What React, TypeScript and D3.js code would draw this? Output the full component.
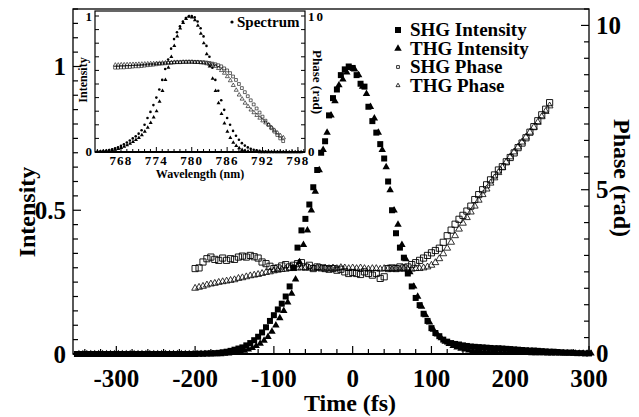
import React from 'react';
import * as d3 from 'd3';

// ---- main plot: intensity vs delay (fs) ----
const timeFs = [
  -350, -345, -340, -335, -330, -325, -320, -315, -310, -305,
  -300, -295, -290, -285, -280, -275, -270, -265, -260, -255,
  -250, -245, -240, -235, -230, -225, -220, -215, -210, -205,
  -200, -195, -190, -185, -180, -175, -170, -165, -160, -155,
  -150, -145, -140, -135, -130, -125, -120, -115, -110, -105,
  -100, -95, -90, -85, -80, -75, -70, -65, -60, -55,
  -50, -45, -40, -35, -30, -25, -20, -15, -10, -5,
  0, 5, 10, 15, 20, 25, 30, 35, 40, 45,
  50, 55, 60, 65, 70, 75, 80, 85, 90, 95,
  100, 105, 110, 115, 120, 125, 130, 135, 140, 145,
  150, 155, 160, 165, 170, 175, 180, 185, 190, 195,
  200, 205, 210, 215, 220, 225, 230, 235, 240, 245,
  250, 255, 260, 265, 270, 275, 280, 285, 290, 295,
  300,
];

const shgIntensity = [
  0, 0, 0, 0, 0, 0, 0, 0, 0, 0,
  0, 0, 0, 0, 0, 0, 0, 0, 0, 0,
  0, 0, 0, 0, 0, 0, 0, 0, 0, 0,
  0, 0.001, 0.001, 0.002, 0.002, 0.003, 0.004, 0.006, 0.008, 0.011,
  0.015, 0.019, 0.023, 0.03, 0.038, 0.048, 0.06, 0.075, 0.093, 0.115,
  0.135, 0.155, 0.175, 0.2, 0.235, 0.3, 0.37, 0.43, 0.47, 0.52,
  0.58, 0.64, 0.7, 0.74, 0.83, 0.89, 0.92, 0.97, 0.99, 1.0,
  0.995, 0.97, 0.94, 0.93, 0.86, 0.81, 0.77, 0.73, 0.68, 0.6,
  0.5, 0.42, 0.37, 0.335, 0.28, 0.235, 0.195, 0.17, 0.14, 0.115,
  0.09, 0.073, 0.062, 0.05, 0.043, 0.038, 0.035, 0.033, 0.03, 0.028,
  0.026, 0.025, 0.024, 0.023, 0.022, 0.021, 0.02, 0.02, 0.019, 0.018,
  0.017, 0.016, 0.015, 0.014, 0.013, 0.012, 0.012, 0.011, 0.01, 0.009,
  0.008, 0.008, 0.007, 0.006, 0.005, 0.005, 0.004, 0.003, 0.003, 0.002,
  0.002,
];

const thgIntensity = [
  0, 0, 0, 0, 0, 0, 0, 0, 0, 0,
  0, 0, 0, 0, 0, 0, 0, 0, 0, 0,
  0, 0, 0, 0, 0, 0, 0, 0, 0, 0,
  0, 0, 0, 0, 0, 0, 0, 0.001, 0.002, 0.004,
  0.006, 0.009, 0.012, 0.016, 0.021, 0.028, 0.036, 0.047, 0.06, 0.078,
  0.1, 0.125, 0.15, 0.18, 0.21, 0.26, 0.32, 0.38, 0.43, 0.5,
  0.565, 0.64, 0.71, 0.77, 0.83, 0.88, 0.935, 0.955, 0.98, 0.995,
  0.99, 0.97, 0.93, 0.905, 0.86, 0.82, 0.77, 0.71, 0.65, 0.57,
  0.5, 0.45, 0.38, 0.33, 0.285, 0.235, 0.2, 0.165, 0.135, 0.11,
  0.085, 0.068, 0.055, 0.043, 0.035, 0.028, 0.023, 0.019, 0.016, 0.013,
  0.011, 0.01, 0.009, 0.008, 0.008, 0.007, 0.007, 0.006, 0.006, 0.005,
  0.005, 0.005, 0.004, 0.004, 0.004, 0.003, 0.003, 0.003, 0.003, 0.002,
  0.002, 0.002, 0.002, 0.002, 0.002, 0.002, 0.002, 0.002, 0.002, 0.002,
  0.002,
];

// ---- main plot: phase (rad) ----
const phaseTimeFs = [
  -200, -195, -190, -185, -180, -175, -170, -165, -160, -155,
  -150, -145, -140, -135, -130, -125, -120, -115, -110, -105,
  -100, -95, -90, -85, -80, -75, -70, -65, -60, -55,
  -50, -45, -40, -35, -30, -25, -20, -15, -10, -5,
  0, 5, 10, 15, 20, 25, 30, 35, 40, 45,
  50, 55, 60, 65, 70, 75, 80, 85, 90, 95,
  100, 105, 110, 115, 120, 125, 130, 135, 140, 145,
  150, 155, 160, 165, 170, 175, 180, 185, 190, 195,
  200, 205, 210, 215, 220, 225, 230, 235, 240, 245,
  250,
];

const shgPhase = [
  2.6, 2.62, 2.8, 2.9, 2.95, 2.88, 2.85, 2.92, 2.85, 2.9,
  2.88, 2.95, 2.98, 2.95, 3.0, 2.96, 2.92, 2.8, 2.75, 2.67,
  2.6, 2.62, 2.68, 2.72, 2.65, 2.7, 2.75, 2.78, 2.65, 2.7,
  2.6, 2.65, 2.62, 2.6, 2.58, 2.6, 2.55, 2.58, 2.5, 2.45,
  2.48, 2.45, 2.42, 2.5, 2.45, 2.4, 2.45, 2.3, 2.35, 2.6,
  2.62, 2.6, 2.65, 2.62, 2.65, 2.72, 2.78, 2.85, 2.92, 3.0,
  3.08, 3.15, 3.22, 3.4, 3.6, 3.77, 3.95, 4.1, 4.22, 4.35,
  4.5, 4.7, 4.85, 5.0, 5.15, 5.3, 5.45, 5.6, 5.7, 5.85,
  5.98, 6.12, 6.28, 6.42, 6.58, 6.75, 6.92, 7.1, 7.28, 7.45,
  7.65,
];

const thgPhase = [
  2.0, 2.03, 2.06, 2.1, 2.13, 2.15, 2.18, 2.2, 2.22, 2.24,
  2.26, 2.3, 2.32, 2.35, 2.38, 2.4, 2.42, 2.45, 2.48, 2.5,
  2.53, 2.55, 2.57, 2.58, 2.6, 2.6, 2.62, 2.62, 2.62, 2.62,
  2.6, 2.63, 2.61, 2.62, 2.6, 2.62, 2.6, 2.63, 2.62, 2.6,
  2.62, 2.6, 2.62, 2.6, 2.58, 2.6, 2.6, 2.58, 2.6, 2.6,
  2.58, 2.6, 2.58, 2.6, 2.58, 2.58, 2.6, 2.6, 2.62, 2.65,
  2.7, 2.78, 2.9, 3.05, 3.22, 3.4, 3.6, 3.8, 3.98, 4.15,
  4.32, 4.5, 4.68, 4.85, 5.02, 5.2, 5.36, 5.52, 5.68, 5.84,
  6.0, 6.15, 6.3, 6.45, 6.6, 6.75, 6.9, 7.05, 7.22, 7.38,
  7.55,
];

// ---- inset: spectrum vs wavelength (nm) ----
const wavelengthNm = [
  764, 764.5, 765, 765.5, 766, 766.5, 767, 767.5, 768, 768.5,
  769, 769.5, 770, 770.5, 771, 771.5, 772, 772.5, 773, 773.5,
  774, 774.5, 775, 775.5, 776, 776.5, 777, 777.5, 778, 778.5,
  779, 779.5, 780, 780.5, 781, 781.5, 782, 782.5, 783, 783.5,
  784, 784.5, 785, 785.5, 786, 786.5, 787, 787.5, 788, 788.5,
  789, 789.5, 790, 790.5, 791, 791.5, 792, 792.5, 793, 793.5,
  794, 794.5, 795, 795.5, 796, 796.5, 797, 797.5, 798, 798.5,
];

const spectrumA = [
  0.003, 0.005, 0.007, 0.01, 0.014, 0.02, 0.027, 0.035, 0.045, 0.057,
  0.07, 0.085, 0.1, 0.115, 0.135, 0.16, 0.2, 0.25, 0.295, 0.345,
  0.4, 0.46, 0.53, 0.61, 0.68, 0.76, 0.83, 0.88, 0.925, 0.96,
  0.985, 0.998, 1.0, 0.99, 0.96, 0.91, 0.85, 0.78, 0.7, 0.62,
  0.53, 0.45, 0.38, 0.31, 0.25, 0.2, 0.155, 0.12, 0.09, 0.065,
  0.047, 0.034, 0.024, 0.017, 0.012, 0.008, 0.006, 0.004, 0.003, 0.002,
  0.002, 0.001, 0.001, 0.001, 0, 0, 0, 0, 0, 0,
];

const spectrumB = [
  0.002, 0.003, 0.004, 0.006, 0.009, 0.013, 0.018, 0.024, 0.031, 0.04,
  0.05, 0.062, 0.075, 0.09, 0.105, 0.125, 0.15, 0.18, 0.215, 0.255,
  0.3, 0.37, 0.45, 0.53, 0.62, 0.7, 0.78, 0.85, 0.91, 0.95,
  0.98, 0.995, 0.99, 0.97, 0.93, 0.87, 0.8, 0.72, 0.63, 0.54,
  0.45, 0.36, 0.28, 0.21, 0.15, 0.105, 0.07, 0.045, 0.028, 0.016,
  0.009, 0.005, 0.003, 0.002, 0.001, 0, 0, 0, 0, 0,
  0, 0, 0, 0, 0, 0, 0, 0, 0, 0,
];

// ---- inset: spectral phase (rad) ----
const phaseWavelengthNm = [
  767, 767.5, 768, 768.5, 769, 769.5, 770, 770.5, 771, 771.5,
  772, 772.5, 773, 773.5, 774, 774.5, 775, 775.5, 776, 776.5,
  777, 777.5, 778, 778.5, 779, 779.5, 780, 780.5, 781, 781.5,
  782, 782.5, 783, 783.5, 784, 784.5, 785, 785.5, 786, 786.5,
  787, 787.5, 788, 788.5, 789, 789.5, 790, 790.5, 791, 791.5,
  792, 792.5, 793, 793.5, 794, 794.5, 795, 795.5,
];

const shgSpectralPhase = [
  6.2, 6.2, 6.22, 6.22, 6.25, 6.25, 6.28, 6.3, 6.3, 6.32,
  6.35, 6.38, 6.4, 6.42, 6.45, 6.48, 6.5, 6.52, 6.55, 6.55,
  6.58, 6.6, 6.6, 6.62, 6.62, 6.63, 6.63, 6.62, 6.62, 6.6,
  6.6, 6.58, 6.55, 6.5, 6.45, 6.38, 6.3, 6.15, 6.0, 5.8,
  5.55, 5.3, 5.0, 4.7, 4.4, 4.1, 3.8, 3.5, 3.2, 2.9,
  2.6, 2.3, 2.0, 1.75, 1.5, 1.25, 1.0, 0.8,
];

const thgSpectralPhase = [
  6.4, 6.4, 6.42, 6.42, 6.43, 6.44, 6.45, 6.45, 6.46, 6.47,
  6.48, 6.49, 6.5, 6.5, 6.52, 6.53, 6.55, 6.56, 6.57, 6.58,
  6.6, 6.6, 6.6, 6.62, 6.62, 6.62, 6.62, 6.6, 6.6, 6.58,
  6.55, 6.5, 6.45, 6.4, 6.3, 6.15, 6.0, 5.8, 5.55, 5.25,
  4.9, 4.55, 4.2, 3.9, 3.6, 3.35, 3.1, 2.9, 2.7, 2.5,
  2.3, 2.15, 2.0, 1.8, 1.6, 1.4, 1.2, 1.05,
];

const legendLabels = ['SHG Intensity', 'THG Intensity', 'SHG Phase', 'THG Phase'];
const xTickLabels = [-300, -200, -100, 0, 100, 200, 300];
const intensityTickLabels = [0, 0.5, 1];
const phaseTickLabels = [0, 5, 10];
const insetXTickLabels = [768, 774, 780, 786, 792, 798];

const FONT = "'Liberation Serif', 'Times New Roman', serif";

const sym = (type: d3.SymbolType, size: number) => d3.symbol().type(type).size(size)() as string;

export default function App() {
  const W = 639;
  const H = 417;
  const left = 73, right = 589, top = 9, bottom = 354;

  const x = d3.scaleLinear().domain([-355, 300]).range([left, right]);
  const yI = d3.scaleLinear().domain([0, 1.2]).range([bottom, top]);
  const yP = d3.scaleLinear().domain([0, 10.5]).range([bottom, top]);

  // inset
  const iL = 95, iR = 305, iT = 11, iB = 152;
  const ix = d3.scaleLinear().domain([763.6, 799.2]).range([iL, iR]);
  const iy = d3.scaleLinear().domain([0, 1]).range([iB, 16]);
  const iyP = d3.scaleLinear().domain([0, 10]).range([iB, 16]);

  const filledSq = sym(d3.symbolSquare, 36);
  const filledTri = sym(d3.symbolTriangle, 24);
  const openSq = sym(d3.symbolSquare, 38);
  const openTri = sym(d3.symbolTriangle, 20);
  const smallSq = sym(d3.symbolSquare, 8);
  const smallTri = sym(d3.symbolTriangle, 7);

  const xTicks = d3.range(-340, 301, 20);
  const yITicks = d3.range(0, 1.201, 0.05);
  const yPTicks = d3.range(0, 10.51, 0.5);
  const ixTicks = d3.range(764, 800, 1);
  const iyTicks = d3.range(0, 1.001, 0.1);
  const iyPTicks = d3.range(0, 10.01, 1);

  const legendY = [30, 48.5, 67, 85.5];
  const legendMarks = [filledSq, filledTri, smallSq, smallTri];

  return (
    <svg width={W} height={H} style={{ position: 'absolute', left: 0, top: 0, background: '#fff' }}>
      <rect width={W} height={H} fill="#fff" />
      {/* main frame */}
      <rect x={left} y={top} width={right - left} height={bottom - top} fill="none" stroke="#000" strokeWidth={1.3} />
      <line x1={left} x2={right} y1={bottom} y2={bottom} stroke="#000" strokeWidth={2} />

      {/* ticks */}
      {xTicks.map((t) => {
        const major = Math.abs(t % 100) < 1e-6;
        return <line key={'xt' + t} x1={x(t)} x2={x(t)} y1={bottom} y2={bottom - (major ? 8 : 5)} stroke="#000" strokeWidth={1.2} />;
      })}
      {yITicks.map((v, i) => {
        const major = i % 10 === 0;
        return <line key={'yl' + i} x1={left} x2={left + (major ? 8 : 5)} y1={yI(v)} y2={yI(v)} stroke="#000" strokeWidth={1.2} />;
      })}
      {yPTicks.map((v, i) => {
        const major = i % 10 === 0;
        return <line key={'yr' + i} x1={right} x2={right - (major ? 8 : 5)} y1={yP(v)} y2={yP(v)} stroke="#000" strokeWidth={1.2} />;
      })}

      {/* tick labels */}
      <g fontFamily={FONT} fontWeight="bold" fontSize={25} fill="#000">
        {xTickLabels.map((t) => (
          <text key={'xl' + t} x={x(t)} y={387} textAnchor="middle">{t}</text>
        ))}
        {intensityTickLabels.map((v) => (
          <text key={'il' + v} x={66} y={yI(v)} dy="0.35em" textAnchor="end">{v}</text>
        ))}
        {phaseTickLabels.map((v) => (
          <text key={'pl' + v} x={596} y={yP(v)} dy="0.33em" textAnchor="start">{v}</text>
        ))}
      </g>
      <g fontFamily={FONT} fontWeight="bold" fontSize={24} fill="#000">
        <text x={350} y={411} textAnchor="middle">Time (fs)</text>
        <text transform="translate(35,212) rotate(-90)" textAnchor="middle">Intensity</text>
        <text transform="translate(614,178) rotate(90)" textAnchor="middle">Phase (rad)</text>
      </g>

      {/* phase data */}
      {phaseTimeFs.map((t, i) => (
        <path key={'sp' + i} d={openSq} transform={`translate(${x(t)},${yP(shgPhase[i])})`} fill="none" stroke="#000" strokeWidth={0.9} />
      ))}
      {phaseTimeFs.map((t, i) => (
        <path key={'tp' + i} d={openTri} transform={`translate(${x(t)},${yP(thgPhase[i])})`} fill="none" stroke="#000" strokeWidth={0.8} />
      ))}

      {/* intensity data */}
      {timeFs.map((t, i) => (
        <path key={'si' + i} d={filledSq} transform={`translate(${x(t)},${yI(shgIntensity[i])})`} fill="#000" />
      ))}
      {timeFs.map((t, i) => (
        <path key={'ti' + i} d={filledTri} transform={`translate(${x(t) + 2},${yI(thgIntensity[i])})`} fill="#000" />
      ))}

      {/* legend */}
      <g fontFamily={FONT} fontWeight="bold" fontSize={19} fill="#000">
        {legendLabels.map((lab, i) => (
          <g key={lab}>
            <path d={legendMarks[i]} transform={`translate(398,${legendY[i]})`} fill={i < 2 ? '#000' : 'none'} stroke="#000" strokeWidth={i < 2 ? 0 : 0.8} />
            <text x={410} y={legendY[i]} dy="0.33em">{lab}</text>
          </g>
        ))}
      </g>

      {/* inset */}
      <rect x={iL} y={iT} width={iR - iL} height={iB - iT} fill="#fff" stroke="#000" strokeWidth={1.2} />
      <line x1={iL} x2={iR} y1={iB} y2={iB} stroke="#000" strokeWidth={1.8} />
      {ixTicks.map((w) => {
        const major = (w - 768) % 6 === 0;
        return <line key={'ixt' + w} x1={ix(w)} x2={ix(w)} y1={iB} y2={iB - (major ? 5 : 3)} stroke="#000" strokeWidth={1} />;
      })}
      {iyTicks.map((v, i) => (
        <line key={'iyl' + i} x1={iL} x2={iL + 4} y1={iy(v)} y2={iy(v)} stroke="#000" strokeWidth={1} />
      ))}
      {iyPTicks.map((v, i) => (
        <line key={'iyr' + i} x1={iR} x2={iR - 4} y1={iyP(v)} y2={iyP(v)} stroke="#000" strokeWidth={1} />
      ))}
      <g fontFamily={FONT} fontWeight="bold" fontSize={13} fill="#000">
        {insetXTickLabels.map((w) => (
          <text key={'ixl' + w} x={ix(w)} y={165} textAnchor="middle" letterSpacing={1.2}>{w}</text>
        ))}
        <text x={92} y={iy(1)} dy="0.35em" textAnchor="end">1</text>
        <text x={92} y={iy(0)} dy="0.3em" textAnchor="end">0</text>
        <text x={308} y={iyP(10)} dy="0.35em" letterSpacing={2}>10</text>
        <text x={308} y={iyP(0)} dy="0.3em">0</text>
        <text x={200} y={178} textAnchor="middle" fontSize={12}>Wavelength (nm)</text>
        <text transform="translate(87,80) rotate(-90)" textAnchor="middle" fontSize={12}>Intensity</text>
        <text transform="translate(313,82) rotate(90)" textAnchor="middle">Phase (rad)</text>
        <circle cx={232} cy={22} r={1.6} fill="#000" />
        <text x={237} y={22} dy="0.35em" fontSize={15}>Spectrum</text>
      </g>

      {phaseWavelengthNm.map((w, i) => (
        <path key={'isp' + i} d={smallSq} transform={`translate(${ix(w)},${iyP(shgSpectralPhase[i])})`} fill="none" stroke="#000" strokeWidth={0.6} />
      ))}
      {phaseWavelengthNm.map((w, i) => (
        <path key={'itp' + i} d={smallTri} transform={`translate(${ix(w) + 0.25},${iyP(thgSpectralPhase[i])})`} fill="none" stroke="#000" strokeWidth={0.6} />
      ))}
      {wavelengthNm.map((w, i) => (
        <circle key={'sa' + i} cx={ix(w)} cy={iy(spectrumA[i])} r={1.3} fill="#000" />
      ))}
      {wavelengthNm.map((w, i) => (
        <path key={'sb' + i} d={smallTri} transform={`translate(${ix(w) + 0.25},${iy(spectrumB[i])})`} fill="#000" />
      ))}
    </svg>
  );
}
